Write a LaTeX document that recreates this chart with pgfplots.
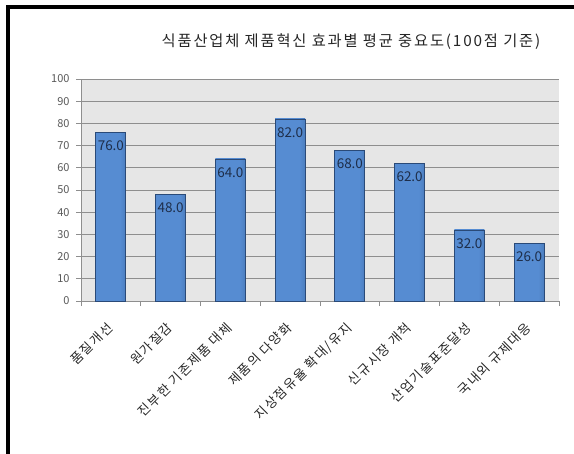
\documentclass[border=0pt]{standalone}
\usepackage{pgfplots}
\pgfplotsset{compat=1.18}
\usepackage{fontspec}
\setmainfont{Noto Sans CJK KR}
\newfontfamily\lblfont[LetterSpace=12]{Noto Sans CJK KR}
\definecolor{barmid}{HTML}{568CD2}
\definecolor{baredge}{HTML}{4677BA}
\definecolor{barright}{HTML}{32598C}
\definecolor{barline}{HTML}{2A4A78}
\definecolor{plotbg}{HTML}{E6E6E6}
\definecolor{gridc}{HTML}{8E8E8E}
\definecolor{lblc}{HTML}{1E2E4A}
\pgfdeclarehorizontalshading{barsh}{100bp}{color(0bp)=(baredge); color(25bp)=(barmid); color(65bp)=(barmid); color(100bp)=(barright)}
\tikzset{mybar/.style={draw=barline, line width=0.8bp, shading=barsh, shade}}
\begin{document}
\begin{tikzpicture}
\useasboundingbox (0,0) rectangle (574bp,454bp);
\fill[white] (0,0) rectangle (574bp,454bp);
\draw[line width=3.5bp, black] (8bp,0) -- (8bp,447bp) -- (574bp,447bp);
\node[font=\lblfont\fontsize{15.3bp}{18bp}\selectfont, text=black!85] at (351bp,412bp) {식품산업체 제품혁신 효과별 평균 중요도(100점 기준)};
\begin{axis}[
  at={(81bp,153bp)}, anchor=south west,
  scale only axis, width=478bp, height=222bp,
  xmin=-0.5, xmax=7.5, ymin=0, ymax=100,
  ytick={0,10,...,100},
  xtick={0,...,7},
  xticklabels={품질개선, 원가절감, 진부한 기존제품 대체, 제품의 다양화, 지상점유율 확대/유지, 신규시장 개척, 산업기술표준달성, 국내외 규제대응},
  minor xtick={-0.5,0.5,...,7.5},
  major x tick style={draw=none},
  tick align=outside,
  major tick length=5bp, minor tick length=5bp,
  tick style={gridc, line width=0.6bp},
  axis background/.style={fill=plotbg},
  axis x line*=bottom, axis y line*=left,
  axis line style={gridc, line width=0.8bp},
  ymajorgrids, grid style={gridc, line width=0.6bp},
  /pgf/number format/assume math mode=true,
  yticklabel style={font=\fontsize{11bp}{13bp}\selectfont, text=black!65, xshift=-3bp},
  xticklabel style={xshift=-5bp, yshift=-10bp, font=\lblfont\fontsize{13bp}{15bp}\selectfont, text=black!85, rotate=45, anchor=north east},
  ybar, bar width=30bp, bar shift=0pt,
  nodes near coords,
  nodes near coords style={font=\fontsize{13.5bp}{15bp}\selectfont, text=lblc, anchor=north, yshift=-5bp, /pgf/number format/.cd, fixed, fixed zerofill, precision=1},
  clip=false,
]
\addplot[mybar] coordinates {(0,76)};
\addplot[mybar] coordinates {(1,48)};
\addplot[mybar] coordinates {(2,64)};
\addplot[mybar] coordinates {(3,82)};
\addplot[mybar] coordinates {(4,68)};
\addplot[mybar] coordinates {(5,62)};
\addplot[mybar] coordinates {(6,32)};
\addplot[mybar] coordinates {(7,26)};
\end{axis}
\end{tikzpicture}
\end{document}
